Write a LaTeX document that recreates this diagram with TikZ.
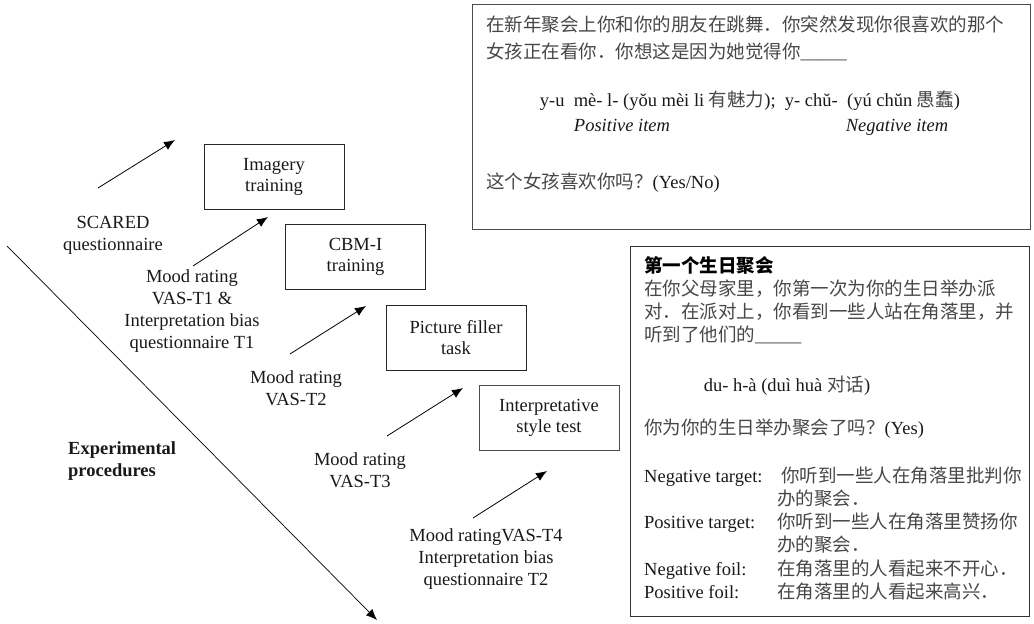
\documentclass[tikz,border=0pt]{standalone}
\usepackage{fontspec}
\usetikzlibrary{arrows.meta}
\setmainfont{Liberation Serif}
\newfontfamily\cjk{Noto Sans CJK SC}
\definecolor{zhgray}{gray}{0.28}
\begin{document}
\begin{tikzpicture}[x=1pt,y=-1pt,
  every node/.style={font=\fontsize{18.5}{22}\selectfont, text=black!90, inner sep=0pt},
  stage/.style={draw=black!85, line width=0.9pt, minimum width=140pt, minimum height=65pt, align=center, font=\fontsize{18.5}{21}\selectfont},
  lbl/.style={align=center},
  arr/.style={line width=0.8pt, -{Latex[length=11pt,width=9pt]}},
  zh/.style={text=zhgray, font=\cjk\fontsize{18.5}{22}\selectfont},
  card/.style={draw=black!70, line width=1pt}
]
\useasboundingbox (0,0) rectangle (1034,624);

% stage boxes
\node[stage] (img) at (274,176.5) {Imagery\\training};
\node[stage] (cbm) at (355.5,256.5) {CBM-I\\training};
\node[stage] (pic) at (456,337.5) {Picture filler\\task};
\node[stage, draw=black!70] (ist) at (549,417.5) {Interpretative\\style test};

% labels
\node[lbl] (scared) at (113,235) {SCARED\\questionnaire};
\node[lbl] (m1) at (192,311.5) {Mood rating\\VAS-T1 \&\\Interpretation bias\\questionnaire T1};
\node[lbl] (m2) at (296,388.5) {Mood rating\\VAS-T2};
\node[lbl] (m3) at (360,470.5) {Mood rating\\VAS-T3};
\node[lbl] (m4) at (486,559.5) {Mood ratingVAS-T4\\Interpretation bias\\questionnaire T2};
\node[align=left, anchor=west, font=\bfseries\fontsize{18.5}{22}\selectfont] (exp) at (68,461.5) {Experimental\\procedures};

% arrow end points
\coordinate (a1s) at (98,188);  \coordinate (a1e) at (175,140);
\coordinate (a2s) at (193,266); \coordinate (a2e) at (268,217);
\coordinate (a3s) at (290,354); \coordinate (a3e) at (366,306);
\coordinate (a4s) at (387,436); \coordinate (a4e) at (463,388);
\coordinate (a5s) at (473,518); \coordinate (a5e) at (547,471);
\coordinate (ls) at (7,246);    \coordinate (le) at (377,620);
\draw[arr] (a1s) -- (a1e);
\draw[arr] (a2s) -- (a2e);
\draw[arr] (a3s) -- (a3e);
\draw[arr] (a4s) -- (a4e);
\draw[arr] (a5s) -- (a5e);
\draw[arr, line width=0.7pt] (ls) -- (le);

% top card
\node[card, minimum width=558pt, minimum height=225pt] (card1) at (751,116.5) {};
\node[zh, anchor=base west] (c1l1) at (486,31) {在新年聚会上你和你的朋友在跳舞．你突然发现你很喜欢的那个};
\node[zh, anchor=base west] (c1l2) at (486,58) {女孩正在看你．你想这是因为她觉得你{\rmfamily\_\_\_\_\_}};
\node[anchor=base] (c1py) at (750,106) {y-u\ \ mè- l- (yŏu mèi li {\cjk\color{zhgray}有魅力});\ \ y- chŭ-\ \ (yú chŭn {\cjk\color{zhgray}愚蠢})};
\node[anchor=base, font=\itshape\fontsize{18.5}{22}\selectfont] (pos) at (622,131) {Positive item};
\node[anchor=base, font=\itshape\fontsize{18.5}{22}\selectfont] (neg) at (897,131) {Negative item};
\node[zh, anchor=base west] (c1q) at (486,188) {这个女孩喜欢你吗？{\rmfamily\color{black!90} (Yes/No)}};

% birthday card
\node[card, draw=black!80, minimum width=399pt, minimum height=370pt] (card2) at (829.5,431) {};
\node[zh, anchor=base west, font=\cjk\bfseries\fontsize{18.5}{22}\selectfont, text=black] (c2t) at (644,272) {第一个生日聚会};
\node[zh, anchor=base west] (c2l1) at (644,295) {在你父母家里，你第一次为你的生日举办派};
\node[zh, anchor=base west] (c2l2) at (644,318) {对．在派对上，你看到一些人站在角落里，并};
\node[zh, anchor=base west] (c2l3) at (644,341) {听到了他们的{\rmfamily\_\_\_\_\_}};
\node[anchor=base] (c2py) at (787,391) {du- h-à (duì huà {\cjk\color{zhgray}对话})};
\node[zh, anchor=base west] (c2q) at (644,434) {你为你的生日举办聚会了吗？{\rmfamily\color{black!90}(Yes)}};

\node[anchor=base west] (nt) at (644,482) {Negative target:};
\node[zh, anchor=base west] (ntz) at (781,482) {你听到一些人在角落里批判你};
\node[zh, anchor=base west] (ntz2) at (777,505) {办的聚会．};
\node[anchor=base west] (pt) at (644,528) {Positive target:};
\node[zh, anchor=base west] (ptz) at (777,528) {你听到一些人在角落里赞扬你};
\node[zh, anchor=base west] (ptz2) at (777,551) {办的聚会．};
\node[anchor=base west] (nf) at (644,575) {Negative foil:};
\node[zh, anchor=base west] (nfz) at (777,575) {在角落里的人看起来不开心．};
\node[anchor=base west] (pf) at (644,598) {Positive foil:};
\node[zh, anchor=base west] (pfz) at (777,598) {在角落里的人看起来高兴．};
\end{tikzpicture}
\end{document}
